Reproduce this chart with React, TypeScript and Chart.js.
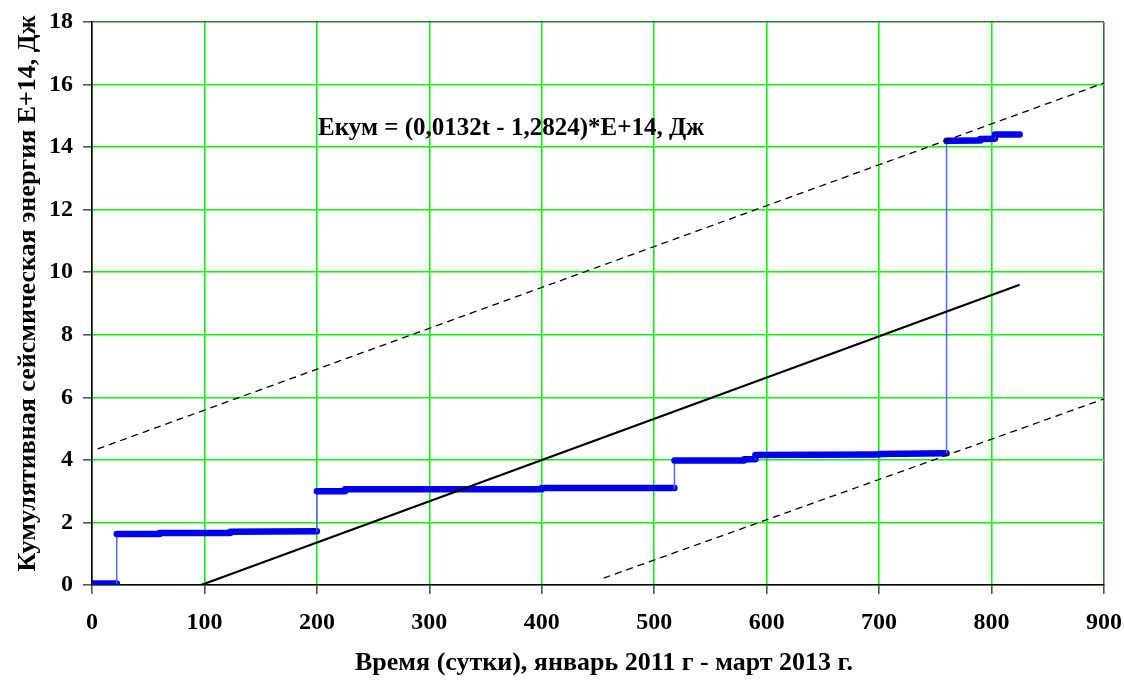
import React, { useEffect, useRef } from "react";
import { Chart, registerables } from "chart.js";

Chart.register(...registerables);

// Cumulative energy steps (days, E+14 J)
const stepDays = [0, 22, 22, 60, 60, 123, 123, 200, 200, 225, 225, 400, 400, 518, 518, 580, 580, 590, 590, 700, 700, 760, 760, 790, 790, 803, 803, 825];
const stepEnergy = [0.05, 0.05, 1.63, 1.63, 1.66, 1.66, 1.7, 1.72, 3.0, 3.0, 3.06, 3.06, 3.1, 3.1, 3.98, 3.98, 4.02, 4.02, 4.16, 4.17, 4.19, 4.21, 14.2, 14.21, 14.26, 14.27, 14.4, 14.4];

// Trend line and bounds (read endpoints)
const trendDays = [97, 825];
const trendEnergy = [0, 9.6];
const upperDays = [5, 900];
const upperEnergy = [4.35, 16.05];
const lowerDays = [455, 900];
const lowerEnergy = [0.22, 5.95];

const xTicks = [0, 100, 200, 300, 400, 500, 600, 700, 800, 900];
const yTicks = [0, 2, 4, 6, 8, 10, 12, 14, 16, 18];

const formulaText = "Екум = (0,0132t - 1,2824)*E+14, Дж";
const formulaAt = { x: 201, y: 14.6 };
const xTitle = "Время (сутки), январь 2011 г - март 2013 г.";
const yTitle = "Кумулятивная сейсмическая энергия E+14, Дж";

const FONT = "'Liberation Serif', 'Times New Roman', serif";

const zip = (xs: number[], ys: number[]) => xs.map((x, i) => ({ x, y: ys[i] }));

export default function App() {
  const ref = useRef<HTMLCanvasElement | null>(null);

  useEffect(() => {
    if (!ref.current) return;
    const textPlugin = {
      id: "texts",
      afterDatasetsDraw(chart: any) {
        const { ctx, scales, chartArea } = chart;
        const px = scales.x.getPixelForValue(formulaAt.x);
        const py = scales.y.getPixelForValue(formulaAt.y);
        ctx.save();
        ctx.fillStyle = "#000";
        ctx.font = `bold 25px ${FONT}`;
        ctx.textAlign = "left";
        ctx.textBaseline = "middle";
        ctx.fillText(formulaText, px, py);

        ctx.font = `bold 26px ${FONT}`;
        ctx.textAlign = "center";
        ctx.fillText(xTitle, (chartArea.left + chartArea.right) / 2 + 6, chartArea.bottom + 78);

        ctx.translate(28, (chartArea.top + chartArea.bottom) / 2 - 10);
        ctx.rotate(-Math.PI / 2);
        ctx.fillText(yTitle, 0, 0);
        ctx.restore();
      },
    };

    const chart = new Chart(ref.current, {
      type: "line",
      data: {
        datasets: [
          {
            data: zip(upperDays, upperEnergy),
            borderColor: "#000",
            borderWidth: 1.3,
            borderDash: [7, 5],
            pointRadius: 0,
          },
          {
            data: zip(lowerDays, lowerEnergy),
            borderColor: "#000",
            borderWidth: 1.3,
            borderDash: [7, 5],
            pointRadius: 0,
          },
          {
            data: zip(trendDays, trendEnergy),
            borderColor: "#000",
            borderWidth: 2.2,
            pointRadius: 0,
          },
          {
            data: zip(stepDays, stepEnergy),
            borderColor: "#0000ee",
            borderWidth: 6,
            borderCapStyle: "round",
            pointRadius: 0,
            segment: {
              borderWidth: (c: any) => (c.p0.parsed.x === c.p1.parsed.x ? 1.5 : 6.5),
              borderColor: (c: any) => (c.p0.parsed.x === c.p1.parsed.x ? "#5566ff" : "#0000ee"),
            },
          } as any,
        ],
      },
      options: {
        animation: false,
        responsive: false,
        layout: { padding: { top: 22, right: 20, left: 0, bottom: 0 } },
        plugins: { legend: { display: false }, tooltip: { enabled: false } },
        scales: {
          x: {
            type: "linear",
            min: 0,
            max: 900,
            afterFit: (s: any) => {
              s.height = 95;
              s.paddingLeft = 0;
              s.paddingRight = 0;
            },
            afterBuildTicks: (s: any) => {
              s.ticks = xTicks.map((v) => ({ value: v }));
            },
            ticks: {
              color: "#000",
              font: { family: FONT, size: 24, weight: "bold" },
              padding: 14,
              maxRotation: 0,
            },
            grid: {
              color: (c: any) => (c.tick && c.tick.value === 900 ? "#2e7d32" : "#11f011"),
              lineWidth: 1.6,
              tickColor: "#555",
              tickLength: 9,
            },
            border: { color: "#000", width: 1.6 },
          },
          y: {
            type: "linear",
            min: 0,
            max: 18,
            afterFit: (s: any) => {
              s.width = 92;
              s.paddingTop = 0;
              s.paddingBottom = 0;
            },
            afterBuildTicks: (s: any) => {
              s.ticks = yTicks.map((v) => ({ value: v }));
            },
            ticks: {
              color: "#000",
              font: { family: FONT, size: 24, weight: "bold" },
              padding: 10,
            },
            grid: {
              color: (c: any) => (c.tick && c.tick.value === 18 ? "#2e7d32" : "#11f011"),
              lineWidth: 1.6,
              tickColor: "#555",
              tickLength: 9,
            },
            border: { color: "#000", width: 1.6 },
          },
        },
      },
      plugins: [textPlugin],
    } as any);
    return () => chart.destroy();
  }, []);

  return (
    <div style={{ position: "fixed", left: 0, top: 0, width: 1124, height: 680, background: "#fff" }}>
      <canvas ref={ref} width={1124} height={680} style={{ width: 1124, height: 680, display: "block" }} />
    </div>
  );
}
